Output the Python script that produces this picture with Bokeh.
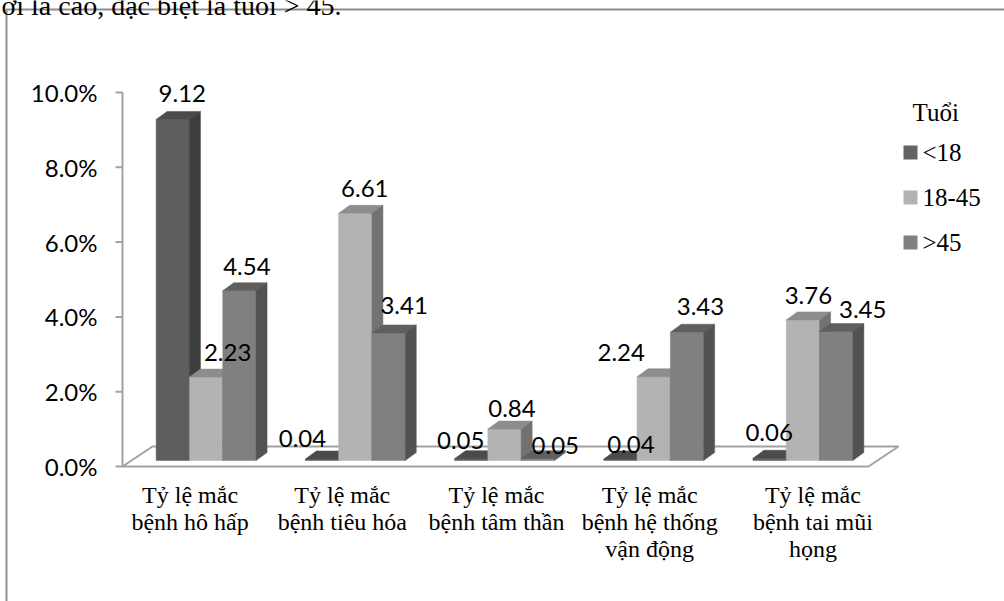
from bokeh.plotting import figure
from bokeh.models import ColumnDataSource, Range1d
from bokeh.core.properties import value
from bokeh.embed import file_html
from bokeh.resources import INLINE

# ---- data -------------------------------------------------------------
categories = [
    "Tỷ lệ mắc\nbệnh hô hấp",
    "Tỷ lệ mắc\nbệnh tiêu hóa",
    "Tỷ lệ mắc\nbệnh tâm thần",
    "Tỷ lệ mắc\nbệnh hệ thống\nvận động",
    "Tỷ lệ mắc\nbệnh tai mũi\nhọng",
]
series_names = ["<18", "18-45", ">45"]
under_18 = [9.12, 0.04, 0.05, 0.04, 0.06]
age_18_45 = [2.23, 6.61, 0.84, 2.24, 3.76]
over_45 = [4.54, 3.41, 0.05, 3.43, 3.45]
y_ticks = [0, 2, 4, 6, 8, 10]
legend_title = "Tuổi"
caption = "ới là cao, đặc biệt là tuổi > 45."

series_values = [under_18, age_18_45, over_45]

# ---- styling ----------------------------------------------------------
W, H = 1004, 601
X0, Y0 = 122, 466          # screen position of the category/value origin
CAT_PX, VAL_PX = 149.2, 37.4   # pixels per category, pixels per percent

FLOOR_D = (30, 20)         # depth of the floor (px right, px up)
BAR_IN = (9, 6)            # front face of the bars sits this deep in the floor
BAR_D = (11, 8)            # depth of a bar
BAR_W_PX = 33.3

# front, top, side shades per series
shades = [
    ("#5e5e5e", "#4b4b4b", "#3e3e3e"),
    ("#b3b3b3", "#8d8d8d", "#727272"),
    ("#808080", "#5f5f5f", "#525252"),
]
legend_colors = ["#646464", "#b3b3b3", "#808080"]

# label nudges in px (right, down), one list per series
label_dx = [[4, -25, -16, 5, -6], [16, 4, 2, -38, 0], [2, 10, 12, 8, 21]]
label_dy = [[1, 6, 9, 12, 1], [2, 2, 6, 3, 3], [3, 0, 14, 1, 5]]
cat_label_dx = [-7, -4, 1, 5, 19]

SANS = value("Lato")
SERIF = value("Liberation Serif")
NUM_SIZE = "24px"


def px_x(d):
    return d / CAT_PX


def px_y(d):
    return d / VAL_PX


def sx(x_screen):
    return (x_screen - X0) / CAT_PX


def sy(y_screen):
    return (Y0 - y_screen) / VAL_PX


p = figure(
    width=W, height=H,
    x_range=Range1d(sx(0), sx(W)),
    y_range=Range1d(sy(H), sy(0)),
    x_axis_location=None, y_axis_location=None,
    toolbar_location=None, output_backend="svg",
    min_border=0, outline_line_color=None,
)
p.min_border_left = p.min_border_right = p.min_border_top = p.min_border_bottom = 0
p.xgrid.visible = False
p.ygrid.visible = False
p.background_fill_color = "white"
p.border_fill_color = "white"

# ---- outer frame and caption line ----------------------------------
p.line(x=[sx(6), sx(6), sx(W + 5)], y=[sy(H + 5), sy(9), sy(9)],
       line_color="#8e8e8e", line_width=2)
p.text(x=[sx(1)], y=[sy(5)], text=[caption], text_font=SERIF,
       text_font_size="28px", text_color="black",
       text_align="left", text_baseline="alphabetic")

# ---- floor ------------------------------------------------------------
n = len(categories)
fdx, fdy = px_x(FLOOR_D[0]), px_y(FLOOR_D[1])
p.patch(x=[0, n, n + fdx, fdx], y=[0, 0, fdy, fdy],
        fill_color="white", line_color="#a2a2a2", line_width=2)

# ---- value axis -------------------------------------------------------
p.segment(x0=[0], y0=[0], x1=[0], y1=[max(y_ticks)],
          line_color="#a2a2a2", line_width=2)
p.segment(x0=[-px_x(7)] * len(y_ticks), y0=y_ticks,
          x1=[0] * len(y_ticks), y1=y_ticks,
          line_color="#a2a2a2", line_width=2)
p.text(x=[-px_x(25)] * len(y_ticks), y=y_ticks,
       text=["%.1f%%" % t for t in y_ticks],
       text_font=SANS, text_font_size=NUM_SIZE, text_color="black",
       text_align="right", text_baseline="middle")

# ---- 3D bars ----------------------------------------------------------
bw = px_x(BAR_W_PX)
gap = 1 - 3 * bw
inx, iny = px_x(BAR_IN[0]), px_y(BAR_IN[1])
ddx, ddy = px_x(BAR_D[0]), px_y(BAR_D[1])

lab = dict(x=[], y=[], text=[], dx=[], dy=[])
for j, vals in enumerate(series_values):
    xs, ys, colors = [], [], []
    front, top, side = shades[j]
    for i, v in enumerate(vals):
        l = i + gap / 2 + j * bw + inx
        r = l + bw
        b = iny
        t = v + iny
        xs += [[l, r, r, l], [l, r, r + ddx, l + ddx], [r, r + ddx, r + ddx, r]]
        ys += [[b, b, t, t], [t, t, t + ddy, t + ddy], [b, b + ddy, t + ddy, t]]
        colors += [front, top, side]
        lab["x"].append((l + r) / 2 + ddx / 2)
        lab["y"].append(t + px_y(27))
        lab["text"].append("%.2f" % v)
        lab["dx"].append(label_dx[j][i])
        lab["dy"].append(label_dy[j][i])
    src = ColumnDataSource(dict(xs=xs, ys=ys, color=colors))
    p.patches("xs", "ys", source=src, fill_color="color",
              line_color="color", line_width=0.5)

p.text("x", "y", text="text", source=ColumnDataSource(lab),
       x_offset="dx", y_offset="dy",
       text_font=SANS, text_font_size=NUM_SIZE, text_color="black",
       text_align="center", text_baseline="middle")

# ---- category labels ----------------------------------------------------
p.text(x=[i + 0.5 + px_x(d) for i, d in enumerate(cat_label_dx)],
       y=[sy(481)] * n, text=categories,
       text_font=SERIF, text_font_size="24px", text_color="black",
       text_align="center", text_baseline="top", text_line_height=1.05)

# ---- legend -------------------------------------------------------------
p.text(x=[sx(912)], y=[sy(112)], text=[legend_title],
       text_font=SERIF, text_font_size="25px", text_color="black",
       text_align="left", text_baseline="alphabetic")
leg_y = [sy(152 + 45 * k) for k in range(len(series_names))]
p.rect(x=[sx(910)] * len(series_names), y=leg_y, width=14, height=14,
       width_units="screen", height_units="screen",
       fill_color=legend_colors, line_color=None)
p.text(x=[sx(922)] * len(series_names), y=leg_y, text=series_names,
       text_font=SERIF, text_font_size="25px", text_color="black",
       text_align="left", text_baseline="middle")

open("out.html", "w").write(file_html(p, INLINE))
